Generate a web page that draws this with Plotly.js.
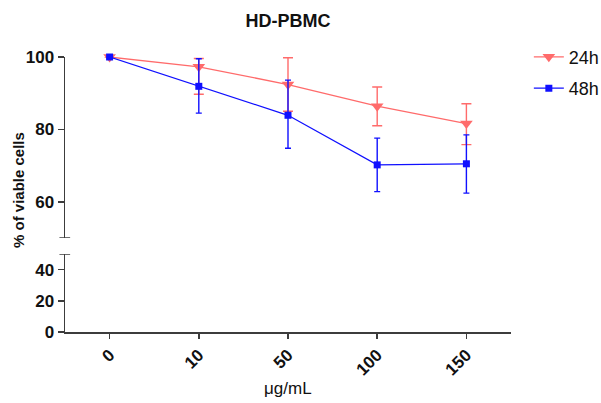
<!DOCTYPE html>
<html>
<head>
<meta charset="utf-8">
<script src="https://cdn.plot.ly/plotly-3.0.1.min.js"></script>
<style>html,body{margin:0;padding:0;background:#fff;}#chart{width:601px;height:403px;}</style>
</head>
<body>
<div id="chart"></div>
<script>
const doses = ['0', '10', '50', '100', '150'];
const viability24h = [100, 97.3, 92.4, 86.4, 81.6];
const err24hPlus = [0, 2.3, 7.4, 5.3, 5.5];
const err24hMinus = [0, 7.6, 7.4, 5.4, 5.8];
const viability48h = [100, 91.9, 83.9, 70.2, 70.5];
const err48hPlus = [0, 7.6, 9.7, 7.4, 8.0];
const err48hMinus = [0, 7.4, 9.1, 7.4, 8.1];
const lowerTicks = [0, 20, 40];
const upperTicks = [60, 80, 100];
const breakValue = 50;

const axisColor = '#3c3c3c';
const red = '#ff6b6b';
const blue = '#1010ff';
const fontFam = 'Arial, "Liberation Sans", sans-serif';

const traces = [
  {
    x: doses, y: viability24h, xaxis: 'x', yaxis: 'y2', name: '24h',
    type: 'scatter', mode: 'lines+markers', cliponaxis: false,
    legendgroup: 'a',
    line: {color: red, width: 1.3},
    marker: {symbol: 'triangle-down', size: 11, color: red},
    error_y: {type: 'data', symmetric: false, array: err24hPlus, arrayminus: err24hMinus,
              color: red, thickness: 1.4, width: 5}
  },
  {
    x: doses, y: viability48h, xaxis: 'x', yaxis: 'y2', name: '48h',
    type: 'scatter', mode: 'lines+markers', cliponaxis: false,
    legendgroup: 'b',
    line: {color: blue, width: 1.3},
    marker: {symbol: 'square', size: 7, color: blue},
    error_y: {type: 'data', symmetric: false, array: err48hPlus, arrayminus: err48hMinus,
              color: blue, thickness: 1.4, width: 3}
  }
];

const layout = {
  width: 601, height: 403,
  margin: {l: 65, r: 90, t: 57, b: 71, autoexpand: false},
  paper_bgcolor: '#fff', plot_bgcolor: '#fff',
  font: {family: fontFam, color: '#111'},
  title: {text: '<b>HD-PBMC</b>', x: 0.5, xref: 'paper', y: 1 - 21/403, yref: 'container',
          yanchor: 'middle', font: {size: 18, family: fontFam, color: '#111'}},
  showlegend: true,
  legend: {x: 1.04, xanchor: 'left', y: 1.067, yanchor: 'top', tracegroupgap: 5,
           font: {size: 18, family: fontFam, color: '#111'}, bgcolor: 'rgba(0,0,0,0)'},
  xaxis: {
    type: 'category', anchor: 'y', domain: [0, 1], range: [-0.5, 4.5],
    showline: true, linecolor: axisColor, linewidth: 1.5,
    ticks: 'outside', ticklen: 5, tickwidth: 1.5, tickcolor: axisColor,
    tickangle: -45, showgrid: false, zeroline: false,
    tickfont: {size: 17, family: fontFam, color: '#111', weight: 'bold'}
  },
  yaxis: {
    domain: [0, 78/275], range: [0, breakValue], anchor: 'x',
    showline: true, linecolor: axisColor, linewidth: 1.5,
    ticks: 'outside', ticklen: 6, tickwidth: 1.5, tickcolor: axisColor,
    tickvals: lowerTicks, ticktext: lowerTicks.map(String),
    showgrid: false, zeroline: false,
    tickfont: {size: 17, family: fontFam, color: '#111', weight: 'bold'}
  },
  yaxis2: {
    domain: [94/275, 1], range: [breakValue, 100], anchor: 'x',
    showline: true, linecolor: axisColor, linewidth: 1.5,
    ticks: 'outside', ticklen: 6, tickwidth: 1.5, tickcolor: axisColor,
    tickvals: upperTicks, ticktext: upperTicks.map(String),
    showgrid: false, zeroline: false,
    tickfont: {size: 17, family: fontFam, color: '#111', weight: 'bold'}
  },
  shapes: [
    {type: 'line', xref: 'paper', yref: 'y', x0: -0.0125, x1: 0.0115, y0: breakValue, y1: breakValue,
     line: {color: axisColor, width: 1.5}},
    {type: 'line', xref: 'paper', yref: 'y2', x0: -0.0125, x1: 0.0115, y0: breakValue, y1: breakValue,
     line: {color: axisColor, width: 1.5}}
  ],
  annotations: [
    {text: '<b>% of viable cells</b>', xref: 'paper', yref: 'paper', x: (18-65)/446, y: (332-190)/275,
     xanchor: 'center', yanchor: 'middle', textangle: -90, showarrow: false,
     font: {size: 15, family: fontFam, color: '#111'}},
    {text: 'μg/mL', xref: 'paper', yref: 'paper', x: (288-65)/446, y: (332-388)/275,
     xanchor: 'center', yanchor: 'middle', showarrow: false,
     font: {size: 17, family: fontFam, color: '#111'}}
  ]
};

Plotly.newPlot('chart', traces, layout, {displayModeBar: false, staticPlot: true});
</script>
</body>
</html>
